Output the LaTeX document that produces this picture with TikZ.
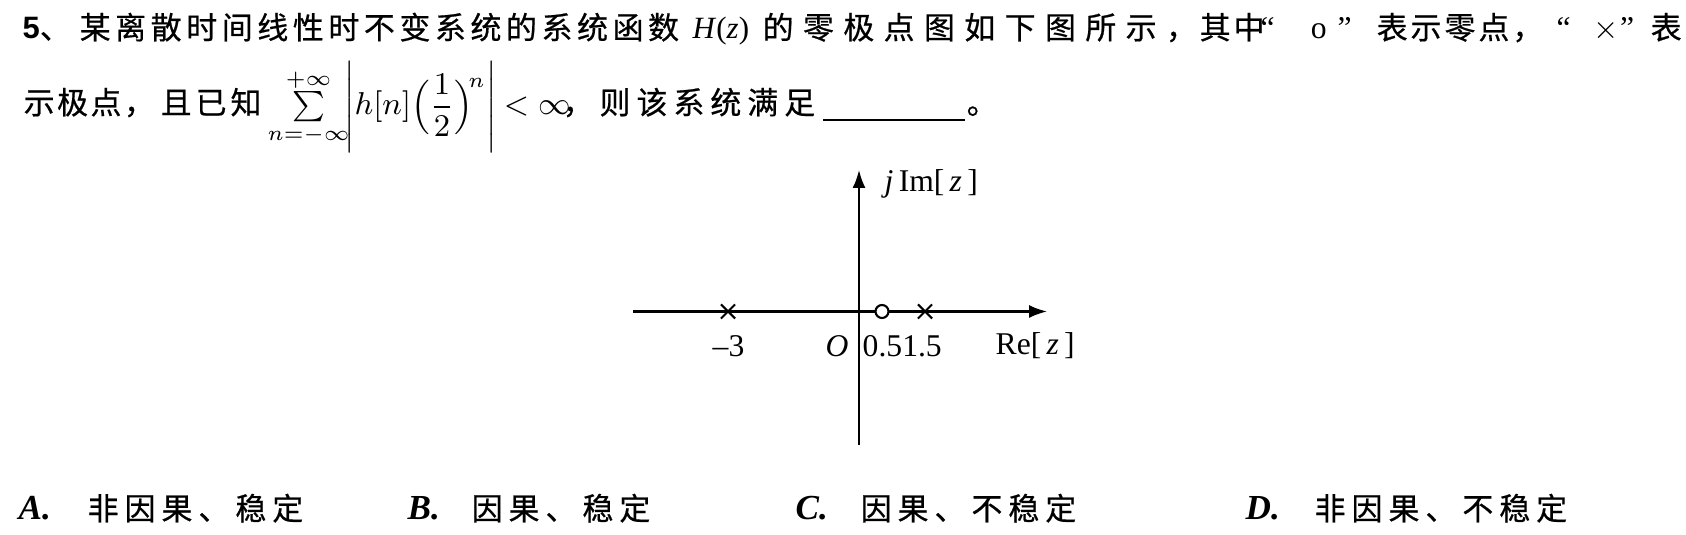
\documentclass[tikz,border=0pt]{standalone}
\usepackage{amsmath, amssymb}
\usepackage{fontspec}
\setmainfont{Liberation Serif}
\newfontfamily\cjk[FakeBold=0.6]{Noto Sans CJK SC}
\newfontfamily\numfont{Liberation Sans}
\usetikzlibrary{
	arrows.meta,
	positioning,
	shapes.misc,
}
\makeatletter
\newcommand\spreadcjk[2]{\def\spread@gap{\hspace{#1}}\@tfor\spread@ch:=#2\do{\spread@ch\spread@gap}\unskip}
\makeatother
\tikzset{
	qtext/.style={anchor=base west, inner sep=0pt, font=\cjk\fontsize{8.8}{10}\selectfont},
	qlatin/.style={anchor=base west, inner sep=0pt, font=\rmfamily\fontsize{9}{10}\selectfont},
	opt/.style={anchor=base west, inner sep=0pt, font=\cjk\fontsize{8.8}{10}\selectfont},
	optletter/.style={anchor=base west, inner sep=0pt, font=\rmfamily\bfseries\itshape\fontsize{10}{11}\selectfont},
	lbl/.style={anchor=base west, inner sep=0pt, font=\fontsize{9}{11}\selectfont},
	axis/.style={line width=0.6pt, -{Latex[length=1.8mm,width=1.3mm]}},
	pole/.style={cross out, draw, line width=0.6pt, minimum size=1.2mm, inner sep=0pt},
	zero/.style={circle, draw, fill=white, line width=0.6pt, minimum size=1.3mm, inner sep=0pt},
}

\begin{document}
\begin{tikzpicture}
			\useasboundingbox (0,0) rectangle (16.86,-5.35);
			% question, first line
			\node[qtext] (q5) at (0.22,-0.39) {{\numfont\bfseries 5}、};
			\node[qtext] (q1a) at (0.79,-0.39) {\spreadcjk{0.046cm}{某离散时间线性时不变系统的系统函数}};
			\node[qlatin, font=\rmfamily\fontsize{8.8}{10}\selectfont] (qH) at (6.92,-0.39) {\textit{H}(\textit{z})};
			\node[qtext] (q1b) at (7.62,-0.39) {\spreadcjk{0.094cm}{的零极点图如下图所示，}};
			\node[qtext] (q1c) at (11.99,-0.39) {\spreadcjk{0.03cm}{其中}};
			\node[qlatin] (qz) at (12.60,-0.39) {“\hspace{0.36cm}o\hspace{0.11cm}”};
			\node[qtext] (q1d) at (13.76,-0.39) {\spreadcjk{0.03cm}{表示零点，}};
			\node[qlatin] (qp) at (15.56,-0.39) {“\hspace{0.23cm}$\times$\hspace{0.01cm}”};
			\node[qtext] (q1e) at (16.50,-0.39) {表};
			% question, second line
			\node[qtext] (q2a) at (0.23,-1.14) {\spreadcjk{0.025cm}{示极点，}};
			\node[qtext] (q2b) at (1.60,-1.14) {\spreadcjk{0.04cm}{且已知}};
			\node[anchor=base west, inner sep=0pt, font=\fontsize{8.6}{11}\selectfont] (sum) at (2.67,-1.15)
				{$\sum\limits_{n=-\infty}^{+\infty}\!\Biggl|h[n]\Bigl(\dfrac{1}{2}\Bigr)^{\!n}\Biggr|\mkern-1mu<\infty$};
			\node[qtext] (q2c) at (5.62,-1.14) {\spreadcjk{0.06cm}{，则该系统满足}};
			\coordinate (bl1) at (8.23,-1.20);
			\coordinate (bl2) at (9.65,-1.20);
			\draw[line width=0.8pt] (bl1) -- (bl2);
			\node[qtext] (q2d) at (9.66,-1.14) {。};
			% pole-zero plot
			\coordinate (O) at (8.59,-3.115);
			\coordinate (xl) at (6.33,-3.115);
			\coordinate (xr) at (10.47,-3.115);
			\coordinate (yb) at (8.59,-4.45);
			\coordinate (yt) at (8.59,-1.70);
			\draw[axis] (xl) -- (xr);
			\draw[axis] (yb) -- (yt);
			\node[pole] (p1) at (7.28,-3.115) {};
			\node[zero] (z1) at (8.82,-3.115) {};
			\node[pole] (p2) at (9.25,-3.115) {};
			\node[lbl] (l1) at (7.12,-3.57) {–3};
			\node[lbl] (lO) at (8.25,-3.57) {\textit{O}};
			\node[lbl] (l2) at (8.62,-3.57) {0.51.5};
			\node[lbl] (lre) at (9.95,-3.55) {Re[\,\textit{z}\,]};
			\node[lbl] (lim) at (8.84,-1.92) {\textit{j}\,Im[\,\textit{z}\,]};
			% options
			\node[optletter] (oA) at (0.18,-5.20) {A\textbf{.}};
			\node[opt] (tA) at (0.87,-5.20) {\spreadcjk{0.06cm}{非因果、稳定}};
			\node[optletter] (oB) at (4.07,-5.20) {B\textbf{.}};
			\node[opt] (tB) at (4.71,-5.20) {\spreadcjk{0.06cm}{因果、稳定}};
			\node[optletter] (oC) at (7.95,-5.20) {C\textbf{.}};
			\node[opt] (tC) at (8.60,-5.20) {\spreadcjk{0.06cm}{因果、不稳定}};
			\node[optletter] (oD) at (12.45,-5.20) {D\textbf{.}};
			\node[opt] (tD) at (13.14,-5.20) {\spreadcjk{0.06cm}{非因果、不稳定}};
		\end{tikzpicture}
\end{document}
